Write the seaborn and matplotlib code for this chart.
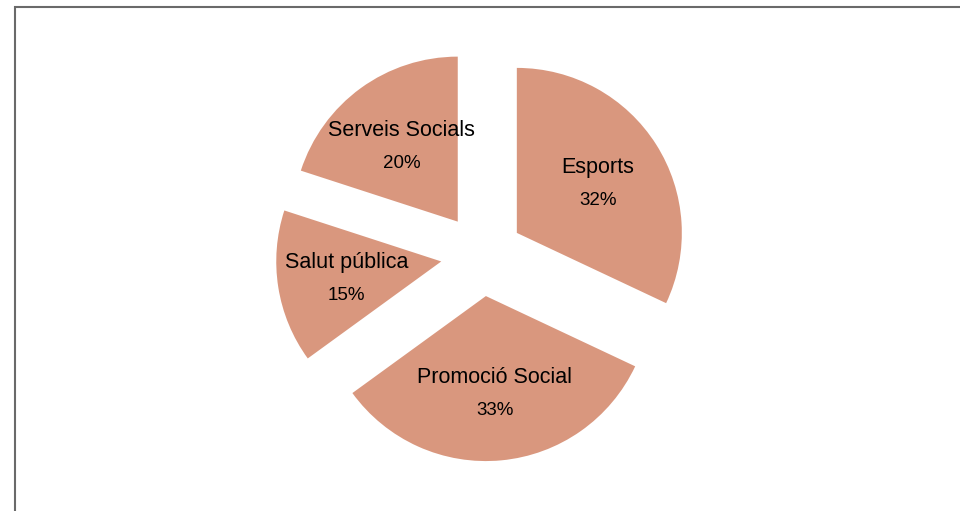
"""
plot.py
Exploded pie chart of budget share by area.
"""

import matplotlib.pyplot as plt
from matplotlib.patches import Rectangle
import seaborn as sns

areas = ["Esports", "Promoció Social", "Salut pública", "Serveis Socials"]
shares = [32, 33, 15, 20]

slice_color = "#D9977E"

sns.set_theme(style="white")
plt.rcParams["font.family"] = ["Liberation Sans", "DejaVu Sans"]

fig = plt.figure(figsize=(9.6, 5.11), dpi=100)
ax = fig.add_axes([0, 0, 1, 1])

wedges, texts, autotexts = ax.pie(
    shares,
    labels=areas,
    autopct="%1.0f%%",
    startangle=90,
    counterclock=False,
    explode=[0.25] * len(shares),
    colors=[slice_color] * len(shares),
    labeldistance=0.58,
    pctdistance=0.58,
    wedgeprops=dict(linewidth=0),
    textprops=dict(color="black"),
)

# stack name above percentage around the same anchor point
for t in texts:
    x, y = t.get_position()
    t.set_position((x, y + 0.085))
    t.set_ha("center")
    t.set_va("center")
    t.set_fontsize(15.5)
for t in autotexts:
    x, y = t.get_position()
    t.set_position((x, y - 0.115))
    t.set_ha("center")
    t.set_va("center")
    t.set_fontsize(13.5)

# one data unit = 165 px, pie centre at (482, 255) px from top-left
scale = 165
ax.set_xlim(-482 / scale, (960 - 482) / scale)
ax.set_ylim(-256 / scale, 255 / scale)
ax.set_aspect("equal")
ax.axis("off")

# frame of the original slide: only left and top edges visible
fig.add_artist(Rectangle((15 / 960, -0.1), 1.2, (511 - 7) / 511 + 0.1,
                         transform=fig.transFigure, fill=False,
                         edgecolor="#6a6a6a", linewidth=1.5))

fig.savefig("out.png", dpi=100, facecolor="white")
